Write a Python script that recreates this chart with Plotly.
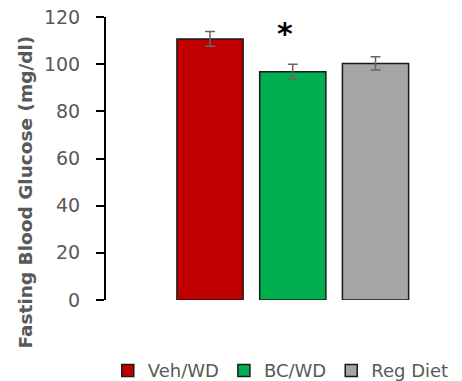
import plotly.graph_objects as go

groups = ["Veh/WD", "BC/WD", "Reg Diet"]
means = [110.7, 96.8, 100.3]
sems = [3.1, 3.2, 2.8]
colors = ["#C00000", "#00B050", "#A5A5A5"]
y_ticks = [0, 20, 40, 60, 80, 100, 120]
star_label = "<b>*</b>"
y_title = "<b>Fasting Blood Glucose (mg/dl)</b>"

fig = go.Figure()
for i, (g, m, s, c) in enumerate(zip(groups, means, sems, colors)):
    fig.add_trace(go.Bar(
        x=[i], y=[m], name=g, width=0.8,
        marker=dict(color=c, line=dict(color="#1a1a1a", width=1.5)),
        error_y=dict(type="data", array=[s], visible=True, color="#666666",
                     thickness=1.5, width=5),
    ))

fig.add_annotation(x=0.9, y=113.0, text=star_label, showarrow=False,
                   font=dict(family="DejaVu Sans", size=30, color="#000000"),
                   xref="x", yref="y", yanchor="middle")

fig.add_annotation(x=-0.2275, y=0.38, xref="paper", yref="paper",
                   text=y_title, textangle=-90, showarrow=False,
                   xanchor="center", yanchor="middle",
                   font=dict(family="DejaVu Sans", size=18.5, color="#595959"))

fig.update_layout(
    width=462, height=381,
    margin=dict(l=106, r=0, t=17, b=81, autoexpand=False),
    paper_bgcolor="white", plot_bgcolor="white",
    showlegend=True,
    legend=dict(orientation="h", x=0.005, xanchor="left", y=-0.25, yanchor="middle",
                font=dict(family="DejaVu Sans", size=18, color="#595959"),
                itemwidth=30, traceorder="normal", borderwidth=0),
)
fig.update_xaxes(range=[-1.257, 3.045], showticklabels=False, showline=False,
                 showgrid=False, zeroline=False, ticks="")
fig.update_yaxes(range=[0, 120], tickvals=y_ticks, ticks="outside", ticklen=8,
                 tickwidth=2, tickcolor="#000000", showline=True, linewidth=2,
                 linecolor="#000000", showgrid=False, zeroline=False,
                 tickfont=dict(family="DejaVu Sans", size=19, color="#595959"),
                 ticklabelstandoff=12)

fig.write_html("out.html")
